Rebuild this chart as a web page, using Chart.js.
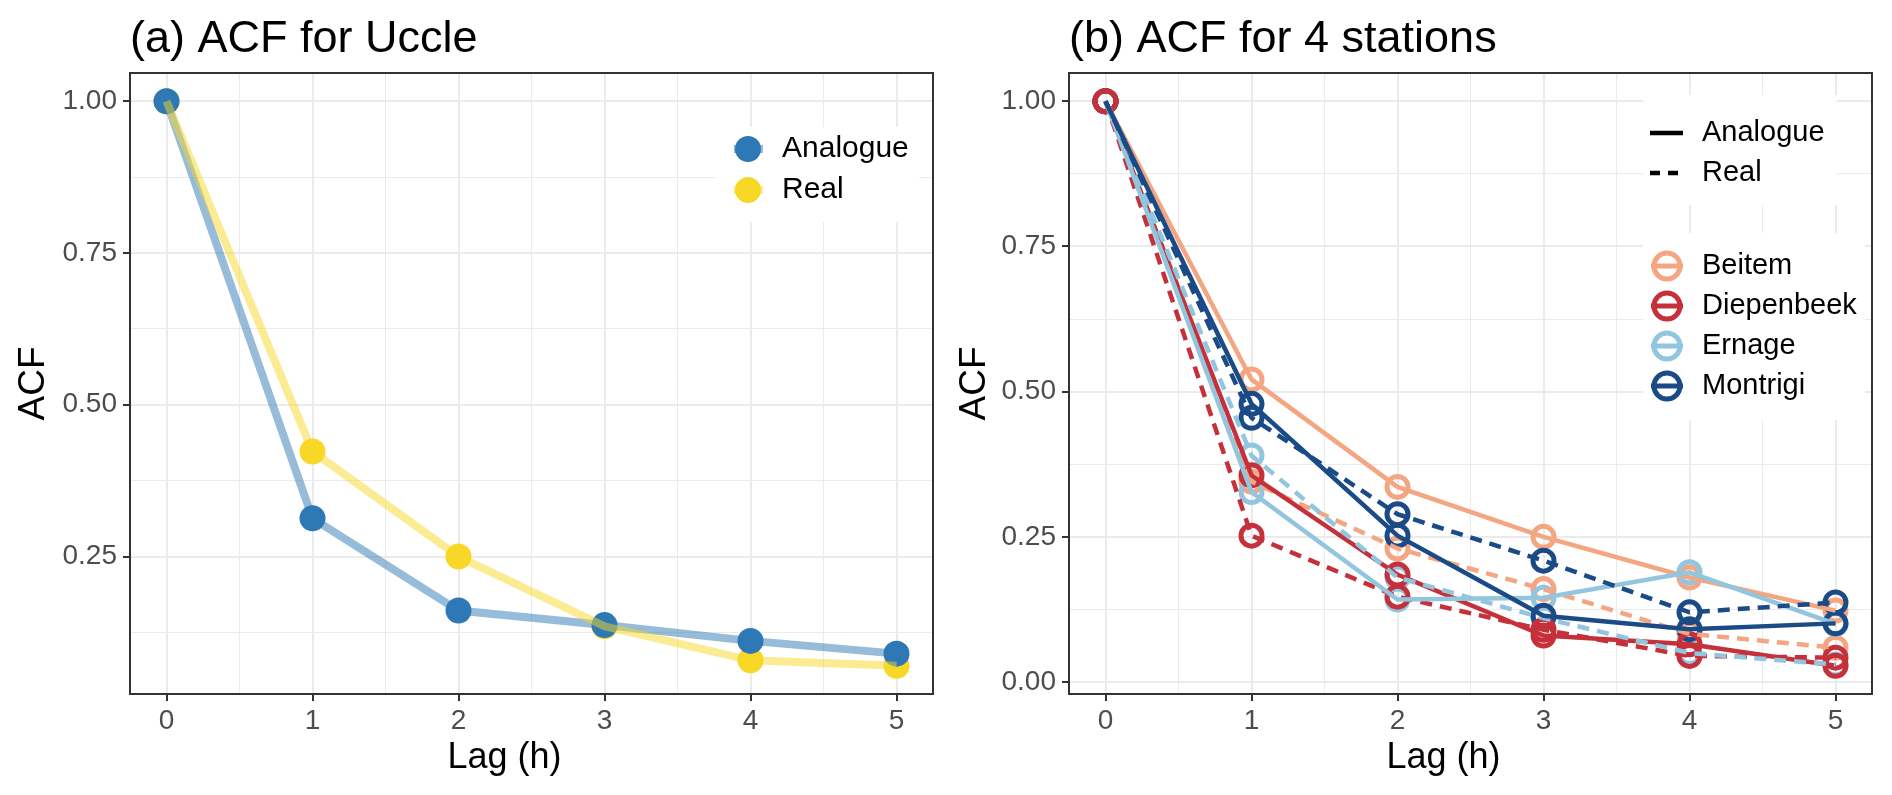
<!DOCTYPE html>
<html lang="en">
<head>
  <meta charset="UTF-8">
  <title>ACF for Uccle and 4 stations</title>
  <style>
    html, body {
      margin: 0;
      padding: 0;
      background: #ffffff;
    }
    .panels {
      display: flex;
      width: 1892px;
      height: 795px;
    }
    canvas {
      display: block;
    }
  </style>
</head>
<body>

<div class="panels">
  <canvas id="uccleChart" width="946" height="795"></canvas>
  <canvas id="stationsChart" width="946" height="795"></canvas>
</div>

<script src="https://cdn.jsdelivr.net/npm/chart.js"></script>
<script>
  // Lags (h) and ACF values
  const lags = [0, 1, 2, 3, 4, 5];

  // (a) Uccle
  const uccleAnalogue = [1.00, 0.313, 0.161, 0.137, 0.111, 0.090];
  const uccleReal     = [1.00, 0.423, 0.250, 0.135, 0.079, 0.070];

  // (b) 4 stations
  const stations = ['Beitem', 'Diepenbeek', 'Ernage', 'Montrigi'];
  const beitemAnalogue     = [1.00, 0.521, 0.336, 0.250, 0.180, 0.123];
  const beitemReal         = [1.00, 0.345, 0.230, 0.160, 0.083, 0.059];
  const diepenbeekAnalogue = [1.00, 0.356, 0.185, 0.080, 0.065, 0.028];
  const diepenbeekReal     = [1.00, 0.252, 0.147, 0.090, 0.045, 0.042];
  const ernageAnalogue     = [1.00, 0.327, 0.142, 0.145, 0.189, 0.100];
  const ernageReal         = [1.00, 0.390, 0.180, 0.110, 0.050, 0.030];
  const montrigiAnalogue   = [1.00, 0.479, 0.252, 0.114, 0.091, 0.101];
  const montrigiReal       = [1.00, 0.455, 0.289, 0.209, 0.120, 0.137];

  // Axis breaks (major + minor, ggplot style)
  const xBreaks = [0, 0.5, 1, 1.5, 2, 2.5, 3, 3.5, 4, 4.5, 5];
  const yBreaksA = [0.125, 0.25, 0.375, 0.5, 0.625, 0.75, 0.875, 1.0];
  const yBreaksB = [0, 0.125, 0.25, 0.375, 0.5, 0.625, 0.75, 0.875, 1.0];

  const FONT = "'Liberation Sans', Arial, Helvetica, sans-serif";
  const colAnalogue = '#2E79B5';
  const colReal = '#F8D826';
  const stationColors = {
    Beitem: '#F4A582',
    Diepenbeek: '#C5303A',
    Ernage: '#92C5DE',
    Montrigi: '#1A4B87'
  };

  Chart.defaults.font.family = FONT;
  Chart.defaults.animation = false;

  const pts = vals => vals.map((v, i) => ({ x: lags[i], y: v }));
  const isMajorX = v => Math.abs(v - Math.round(v)) < 1e-9;
  const isMajorY = v => Math.abs(v * 4 - Math.round(v * 4)) < 1e-9;

  // full panel border like theme_bw, plus the x axis title (sits a bit left of centre)
  const panelBorder = {
    id: 'panelBorder',
    afterDatasetsDraw(chart) {
      const { ctx, chartArea: a } = chart;
      ctx.save();
      ctx.strokeStyle = '#333333';
      ctx.lineWidth = 2;
      ctx.strokeRect(a.left, a.top, a.right - a.left, a.bottom - a.top);
      ctx.fillStyle = '#000000';
      ctx.font = '36px ' + FONT;
      ctx.textAlign = 'center';
      ctx.textBaseline = 'alphabetic';
      ctx.fillText('Lag (h)', (a.left + a.right) / 2 - 27, 768);
      ctx.restore();
    }
  };

  function axes(yMin, yMax, yBreaks, yAxisWidth, yTitlePad) {
    return {
      x: {
        type: 'linear',
        min: -0.25,
        max: 5.25,
        afterBuildTicks: s => { s.ticks = xBreaks.map(v => ({ value: v })); },
        afterFit: s => { s.height = 101; },
        border: { display: false },
        grid: {
          color: '#EBEBEB',
          lineWidth: c => isMajorX(c.tick.value) ? 2 : 1,
          tickColor: c => isMajorX(c.tick.value) ? '#333333' : 'rgba(0,0,0,0)',
          tickWidth: 2,
          tickLength: 7
        },
        ticks: {
          autoSkip: false,
          maxRotation: 0,
          padding: 3,
          color: '#4D4D4D',
          font: { size: 28 },
          callback: v => isMajorX(v) ? String(v) : ''
        },
        title: { display: false }
      },
      y: {
        type: 'linear',
        min: yMin,
        max: yMax,
        afterBuildTicks: s => { s.ticks = yBreaks.map(v => ({ value: v })); },
        afterFit: s => { s.width = yAxisWidth; },
        border: { display: false },
        grid: {
          color: '#EBEBEB',
          lineWidth: c => isMajorY(c.tick.value) ? 2 : 1,
          tickColor: c => isMajorY(c.tick.value) ? '#333333' : 'rgba(0,0,0,0)',
          tickWidth: 2,
          tickLength: 7
        },
        ticks: {
          autoSkip: false,
          padding: 6,
          color: '#4D4D4D',
          font: { size: 28 },
          callback: v => isMajorY(v) ? v.toFixed(2) : ''
        },
        title: {
          display: true,
          text: 'ACF',
          color: '#000000',
          font: { size: 37 },
          padding: { top: yTitlePad, bottom: 0 }
        }
      }
    };
  }

  function titleOpts(text) {
    return {
      display: true,
      text: text,
      align: 'start',
      fullSize: false,
      color: '#000000',
      font: { size: 45, weight: 'normal' },
      padding: { top: 13, bottom: 6 }
    };
  }

  // ---------- (a) ACF for Uccle ----------
  const uccleLegend = {
    id: 'uccleLegend',
    afterDraw(chart) {
      const ctx = chart.ctx;
      ctx.save();
      ctx.fillStyle = '#ffffff';
      ctx.fillRect(716, 127, 203, 95);
      const rows = [
        { label: 'Analogue', color: colAnalogue, y: 149 },
        { label: 'Real', color: colReal, y: 190 }
      ];
      rows.forEach(r => {
        ctx.beginPath();
        ctx.fillStyle = r.color;
        ctx.arc(748, r.y, 13, 0, Math.PI * 2);
        ctx.fill();
        ctx.globalAlpha = 0.5;
        ctx.strokeStyle = r.color;
        ctx.lineWidth = 8;
        ctx.beginPath();
        ctx.moveTo(734, r.y);
        ctx.lineTo(763, r.y);
        ctx.stroke();
        ctx.globalAlpha = 1;
        ctx.fillStyle = '#000000';
        ctx.font = '30px ' + FONT;
        ctx.textBaseline = 'middle';
        ctx.textAlign = 'left';
        ctx.fillText(r.label, 782, r.y);
      });
      ctx.restore();
    }
  };

  new Chart(document.getElementById('uccleChart'), {
    type: 'line',
    data: {
      datasets: [
        // lines are drawn over the points (lower order = on top)
        { label: 'Real line', data: pts(uccleReal), borderColor: 'rgba(248,216,38,0.5)', borderWidth: 8,
          pointRadius: 0, fill: false, tension: 0, order: 0 },
        { label: 'Analogue line', data: pts(uccleAnalogue), borderColor: 'rgba(46,121,181,0.5)', borderWidth: 8,
          pointRadius: 0, fill: false, tension: 0, order: 1 },
        { label: 'Analogue', data: pts(uccleAnalogue), showLine: false, pointRadius: 13, pointBorderWidth: 0,
          pointBackgroundColor: colAnalogue, pointBorderColor: colAnalogue, order: 2 },
        { label: 'Real', data: pts(uccleReal), showLine: false, pointRadius: 13, pointBorderWidth: 0,
          pointBackgroundColor: colReal, pointBorderColor: colReal, order: 3 }
      ]
    },
    options: {
      responsive: false,
      devicePixelRatio: 1,
      layout: { padding: { left: 0, right: 13, top: 0, bottom: 0 } },
      plugins: {
        legend: { display: false },
        tooltip: { enabled: false },
        title: titleOpts('(a) ACF for Uccle')
      },
      scales: axes(0.0235, 1.0465, yBreaksA, 130, 12)
    },
    plugins: [panelBorder, uccleLegend]
  });

  // ---------- (b) ACF for 4 stations ----------
  const stationSeries = {
    Beitem: [beitemAnalogue, beitemReal],
    Diepenbeek: [diepenbeekAnalogue, diepenbeekReal],
    Ernage: [ernageAnalogue, ernageReal],
    Montrigi: [montrigiAnalogue, montrigiReal]
  };

  const lineSets = [];
  const pointSets = [];
  stations.forEach(name => {
    const c = stationColors[name];
    const [ana, real] = stationSeries[name];
    lineSets.push({ label: name + ' Analogue', data: pts(ana), borderColor: c, borderWidth: 4.5,
      pointRadius: 0, fill: false, tension: 0 });
    lineSets.push({ label: name + ' Real', data: pts(real), borderColor: c, borderWidth: 4.5,
      borderDash: [12, 8], pointRadius: 0, fill: false, tension: 0 });
  });
  // Diepenbeek circles end up on top at lag 0
  ['Beitem', 'Ernage', 'Montrigi', 'Diepenbeek'].forEach(name => {
    const c = stationColors[name];
    stationSeries[name].forEach(vals => {
      pointSets.push({ label: name, data: pts(vals), showLine: false, pointRadius: 10.5,
        pointBorderWidth: 5, pointBackgroundColor: 'rgba(0,0,0,0)', pointBorderColor: c });
    });
  });
  // drawing order: points first, lines on top, later stations above earlier ones
  const allSets = [];
  pointSets.forEach((d, i) => { d.order = 100 - i; allSets.push(d); });
  lineSets.forEach((d, i) => { d.order = 50 - i; allSets.push(d); });

  const stationLegend = {
    id: 'stationLegend',
    afterDraw(chart) {
      const ctx = chart.ctx;
      ctx.save();
      ctx.fillStyle = '#ffffff';
      ctx.fillRect(697, 95, 194, 110);
      ctx.fillRect(697, 233, 222, 187);
      ctx.font = '29px ' + FONT;
      ctx.textBaseline = 'middle';
      ctx.textAlign = 'left';

      // linetype legend
      ctx.strokeStyle = '#000000';
      ctx.lineWidth = 4.5;
      ctx.beginPath();
      ctx.moveTo(704, 133);
      ctx.lineTo(737, 133);
      ctx.stroke();
      ctx.setLineDash([10, 8]);
      ctx.beginPath();
      ctx.moveTo(704, 173);
      ctx.lineTo(737, 173);
      ctx.stroke();
      ctx.setLineDash([]);
      ctx.fillStyle = '#000000';
      ctx.fillText('Analogue', 756, 133);
      ctx.fillText('Real', 756, 173);

      // colour legend
      stations.forEach((name, i) => {
        const y = 266 + i * 40;
        const c = stationColors[name];
        ctx.strokeStyle = c;
        ctx.lineWidth = 5;
        ctx.beginPath();
        ctx.moveTo(705, y);
        ctx.lineTo(737, y);
        ctx.stroke();
        ctx.beginPath();
        ctx.arc(721, y, 13, 0, Math.PI * 2);
        ctx.stroke();
        ctx.fillStyle = '#000000';
        ctx.fillText(name, 756, y);
      });
      ctx.restore();
    }
  };

  new Chart(document.getElementById('stationsChart'), {
    type: 'line',
    data: { datasets: allSets },
    options: {
      responsive: false,
      devicePixelRatio: 1,
      layout: { padding: { left: 0, right: 20, top: 0, bottom: 0 } },
      plugins: {
        legend: { display: false },
        tooltip: { enabled: false },
        title: titleOpts('(b) ACF for 4 stations')
      },
      scales: axes(-0.0206, 1.0486, yBreaksB, 123, 7)
    },
    plugins: [panelBorder, stationLegend]
  });
</script>

</body>
</html>
